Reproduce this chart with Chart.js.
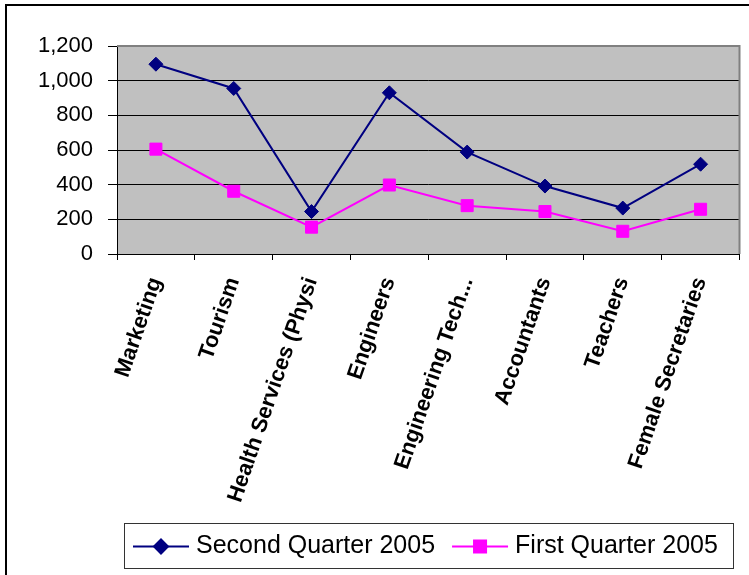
<!DOCTYPE html>
<html>
<head>
<meta charset="utf-8">
<script src="https://cdn.jsdelivr.net/npm/chart.js@4/dist/chart.umd.min.js"></script>
<style>
  html, body { margin: 0; padding: 0; background: #fff; }
  #wrap { width: 749px; height: 575px; }
</style>
</head>
<body>
<div id="wrap"><canvas id="c" width="749" height="575"></canvas></div>
<script>
const categories = ["Marketing", "Tourism", "Health Services (Physi", "Engineers", "Engineering Tech...", "Accountants", "Teachers", "Female Secretaries"];
const seriesNames = ["Second Quarter 2005", "First Quarter 2005"];
const secondQuarter2005 = [1095, 955, 245, 930, 588, 392, 265, 518];
const firstQuarter2005 = [605, 362, 155, 398, 279, 245, 131, 258];
const yTicks = [0, 200, 400, 600, 800, 1000, 1200];

const PLOT_BG = '#C0C0C0';

const framePlugin = {
  id: 'frame',
  beforeDraw(chart) {
    const ctx = chart.ctx;
    const a = chart.chartArea;
    ctx.save();
    ctx.fillStyle = '#fff';
    ctx.fillRect(0, 0, chart.width, chart.height);
    ctx.strokeStyle = '#000';
    ctx.lineWidth = 2;
    ctx.strokeRect(6, 5, chart.width + 20, chart.height + 20);
    ctx.fillStyle = PLOT_BG;
    ctx.fillRect(a.left, a.top, a.right - a.left, a.bottom - a.top);
    ctx.restore();
  },
  beforeDatasetsDraw(chart) {
    const ctx = chart.ctx;
    const a = chart.chartArea;
    ctx.save();
    ctx.strokeStyle = '#808080';
    ctx.lineWidth = 2;
    ctx.beginPath();
    ctx.moveTo(a.left, a.top);
    ctx.lineTo(a.right, a.top);
    ctx.lineTo(a.right, a.bottom);
    ctx.stroke();
    ctx.restore();
  },
  afterDraw(chart) {
    const ctx = chart.ctx;
    const boxL = 124, boxT = 523, boxR = 733, boxB = 568;
    ctx.save();
    ctx.strokeStyle = '#333';
    ctx.lineWidth = 1;
    ctx.strokeRect(boxL + 0.5, boxT + 0.5, boxR - boxL, boxB - boxT);
    ctx.font = '25px "Liberation Sans", Arial, sans-serif';
    ctx.textBaseline = 'middle';
    ctx.textAlign = 'left';
    const cy = (boxT + boxB) / 2 + 1;
    let x = boxL + 9;
    chart.data.datasets.forEach((ds) => {
      ctx.strokeStyle = ds.borderColor;
      ctx.lineWidth = 2;
      ctx.beginPath();
      ctx.moveTo(x, cy);
      ctx.lineTo(x + 56, cy);
      ctx.stroke();
      ctx.fillStyle = ds.pointBackgroundColor;
      ctx.strokeStyle = ds.pointBorderColor;
      Chart.helpers.drawPoint(ctx, {
        pointStyle: ds.pointStyle, radius: ds.pointRadius, rotation: 0, borderWidth: 1
      }, x + 28, cy);
      ctx.fillStyle = '#000';
      ctx.fillText(ds.label, x + 63, cy);
      x += 63 + ctx.measureText(ds.label).width + 17;
    });
    ctx.restore();
  }
};

new Chart(document.getElementById('c'), {
  type: 'line',
  data: {
    labels: categories,
    datasets: [
      {
        label: seriesNames[0],
        data: secondQuarter2005,
        borderColor: '#000080',
        backgroundColor: '#000080',
        pointBackgroundColor: '#000080',
        pointBorderColor: '#000080',
        borderWidth: 2,
        pointStyle: 'rectRot',
        pointRadius: 7,
        pointBorderWidth: 1,
        tension: 0,
        fill: false
      },
      {
        label: seriesNames[1],
        data: firstQuarter2005,
        borderColor: '#FF00FF',
        backgroundColor: '#FF00FF',
        pointBackgroundColor: '#FF00FF',
        pointBorderColor: '#FF00FF',
        borderWidth: 2,
        pointStyle: 'rect',
        pointRadius: 8.5,
        pointBorderWidth: 1,
        tension: 0,
        fill: false
      }
    ]
  },
  options: {
    responsive: false,
    animation: false,
    events: [],
    layout: { padding: { left: 0, top: 46, right: 5, bottom: 0 } },
    plugins: {
      legend: { display: false },
      tooltip: { enabled: false }
    },
    scales: {
      x: {
        type: 'category',
        offset: true,
        grid: {
          offset: true,
          drawOnChartArea: false,
          drawTicks: true,
          tickLength: 6,
          color: '#000',
          tickColor: '#000'
        },
        border: { display: true, color: '#000', width: 1 },
        ticks: {
          autoSkip: false,
          minRotation: 71,
          maxRotation: 71,
          padding: 14,
          color: '#000',
          font: { family: '"Liberation Sans", Arial, sans-serif', size: 22, weight: 'bold' }
        },
        afterFit(scale) { scale.height = 321; }
      },
      y: {
        min: yTicks[0],
        max: yTicks[yTicks.length - 1],
        afterBuildTicks(scale) { scale.ticks = yTicks.map(v => ({ value: v })); },
        grid: {
          color: (c) => (c.tick && c.tick.value === yTicks[yTicks.length - 1]) ? 'rgba(0,0,0,0)' : '#000',
          tickColor: '#000',
          lineWidth: 1,
          drawTicks: true,
          tickLength: 9
        },
        border: { display: true, color: '#000', width: 1 },
        ticks: {
          padding: 15,
          color: '#000',
          font: { family: '"Liberation Sans", Arial, sans-serif', size: 22 },
          callback: (v) => Number(v).toLocaleString('en-US')
        },
        afterFit(scale) { scale.width = 117; }
      }
    }
  },
  plugins: [framePlugin]
});
</script>
</body>
</html>
